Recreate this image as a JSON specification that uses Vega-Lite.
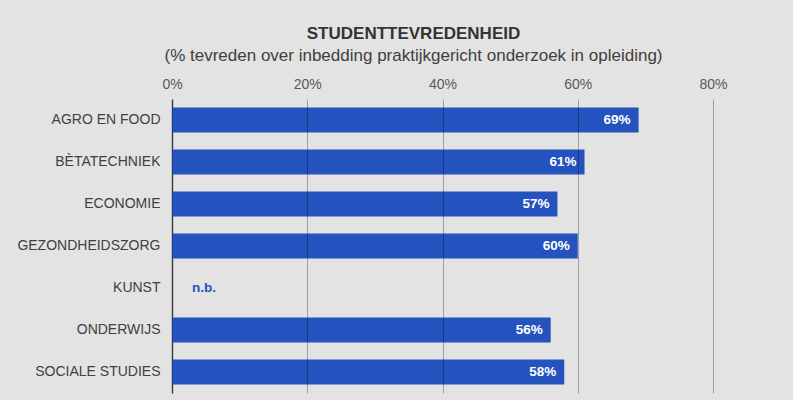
{
  "$schema": "https://vega.github.io/schema/vega-lite/v6.json",
  "width": 541,
  "height": 294,
  "autosize": {"type": "none"},
  "padding": {"left": 172, "top": 99, "right": 80, "bottom": 7},
  "background": "#e3e3e3",
  "config": {"view": {"stroke": null}, "font": "Liberation Sans"},
  "title": {
    "text": "STUDENTTEVREDENHEID",
    "subtitle": "(% tevreden over inbedding praktijkgericht onderzoek in opleiding)",
    "anchor": "middle",
    "frame": "group",
    "dx": -29,
    "font": "Liberation Sans",
    "fontSize": 17,
    "fontWeight": "bold",
    "color": "#333333",
    "subtitleFont": "Liberation Sans",
    "subtitleFontSize": 17,
    "subtitleColor": "#404040",
    "subtitlePadding": 5,
    "offset": 12
  },
  "data": {
    "values": [
      {"sector": "AGRO EN FOOD", "value": 0.69, "note": null},
      {"sector": "BÈTATECHNIEK", "value": 0.61, "note": null},
      {"sector": "ECONOMIE", "value": 0.57, "note": null},
      {"sector": "GEZONDHEIDSZORG", "value": 0.60, "note": null},
      {"sector": "KUNST", "value": null, "note": "n.b."},
      {"sector": "ONDERWIJS", "value": 0.56, "note": null},
      {"sector": "SOCIALE STUDIES", "value": 0.58, "note": null}
    ]
  },
  "encoding": {
    "y": {
      "field": "sector",
      "type": "nominal",
      "sort": ["AGRO EN FOOD", "BÈTATECHNIEK", "ECONOMIE", "GEZONDHEIDSZORG", "KUNST", "ONDERWIJS", "SOCIALE STUDIES"],
      "scale": {"domain": ["AGRO EN FOOD", "BÈTATECHNIEK", "ECONOMIE", "GEZONDHEIDSZORG", "KUNST", "ONDERWIJS", "SOCIALE STUDIES"], "paddingInner": 0.4, "paddingOuter": 0.2},
      "axis": {
        "title": null,
        "ticks": false,
        "domain": true,
        "domainColor": "#555555",
        "domainWidth": 1.5,
        "labelFont": "Liberation Sans",
        "labelFontSize": 14,
        "labelColor": "#404040",
        "labelPadding": 12
      }
    }
  },
  "layer": [
    {
      "mark": {"type": "bar", "color": "#2452be"},
      "encoding": {
        "x": {
          "field": "value",
          "type": "quantitative",
          "scale": {"domain": [0, 0.8]},
          "axis": {
            "orient": "top",
            "title": null,
            "format": ".0%",
            "values": [0, 0.2, 0.4, 0.6, 0.8],
            "domain": false,
            "ticks": false,
            "grid": true,
            "gridColor": "#000000",
            "gridOpacity": 0.3,
            "zindex": 1,
            "labelFlush": false,
            "labelFont": "Liberation Sans",
            "labelFontSize": 14,
            "labelColor": "#595959",
            "labelBaseline": "alphabetic",
            "labelPadding": 11
          }
        }
      }
    },
    {
      "transform": [{"filter": "datum.value != null"}],
      "mark": {"type": "text", "align": "right", "baseline": "middle", "dx": -8, "color": "#ffffff", "fontWeight": "bold", "fontSize": 13.5, "font": "Liberation Sans"},
      "encoding": {
        "x": {"field": "value", "type": "quantitative"},
        "text": {"field": "value", "type": "quantitative", "format": ".0%"}
      }
    },
    {
      "transform": [{"filter": "datum.note != null"}],
      "mark": {"type": "text", "align": "left", "baseline": "middle", "dx": 20, "color": "#2452be", "fontWeight": "bold", "fontSize": 13.5, "font": "Liberation Sans"},
      "encoding": {
        "x": {"datum": 0},
        "text": {"field": "note", "type": "nominal"}
      }
    }
  ]
}
